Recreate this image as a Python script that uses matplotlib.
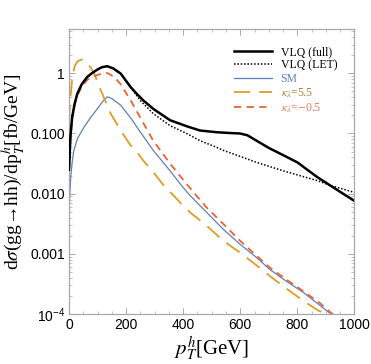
import matplotlib
matplotlib.use("Agg")
import matplotlib.pyplot as plt
from matplotlib.ticker import FixedLocator, FixedFormatter, NullFormatter, MultipleLocator

plt.rcParams['mathtext.fontset'] = 'stix'

# ---- data ----
pt_full = [0, 5, 11, 20, 29, 45, 64, 80, 99, 115, 134, 155, 181, 216, 237, 260, 295, 354, 412, 459,
           517, 560, 599, 625, 657, 700, 750, 800, 868, 914, 960, 1000]
vlq_full = [0.025, 0.089, 0.186, 0.316, 0.457, 0.661, 0.871, 1.0, 1.148, 1.259, 1.31, 1.202, 0.989,
            0.589, 0.457, 0.355, 0.257, 0.166, 0.132, 0.112, 0.105, 0.102, 0.100, 0.0933, 0.0759,
            0.0575, 0.0437, 0.0331, 0.0191, 0.0138, 0.0100, 0.00759]

pt_let = [0, 5, 11, 20, 29, 45, 64, 80, 99, 115, 134, 155, 181, 216, 249, 295, 354, 412, 459, 517,
          540, 599, 657, 750, 868, 914, 1000]
vlq_let = [0.025, 0.089, 0.186, 0.316, 0.457, 0.661, 0.871, 1.0, 1.148, 1.259, 1.31, 1.202, 0.989,
           0.589, 0.355, 0.214, 0.135, 0.100, 0.0759, 0.0589, 0.0525, 0.0417, 0.0331, 0.0240,
           0.0166, 0.0138, 0.0105]

pt_sm = [0, 3, 6, 11, 17, 30, 52, 75, 99, 118, 134, 150, 181, 222, 237, 295, 354, 400, 424, 482,
         540, 599, 657, 704, 760, 821, 870, 926, 1000]
sm = [0.00468, 0.0100, 0.0186, 0.0331, 0.0525, 0.0832, 0.126, 0.182, 0.257, 0.339, 0.407, 0.380,
      0.295, 0.166, 0.129, 0.0525, 0.0240, 0.0126, 0.00933, 0.00490, 0.00257, 0.00145, 0.000871,
      0.000550, 0.000355, 0.000229, 0.000151, 0.0000933, 0.0000501]

pt_k55 = [0, 5, 12, 20, 30, 45, 60, 75, 88, 111, 146, 181, 216, 237, 260, 295, 330, 380, 424, 482,
          540, 599, 657, 704, 760, 821, 870, 914, 1000]
k55 = [0.158, 0.398, 0.891, 1.318, 1.585, 1.698, 1.549, 1.259, 1.0, 0.525, 0.214, 0.112, 0.0631,
       0.0501, 0.0355, 0.0229, 0.0141, 0.00794, 0.00490, 0.00295, 0.00166, 0.00105, 0.000646,
       0.000427, 0.000269, 0.000166, 0.000117, 0.0000933, 0.0000501]

pt_km05 = [0, 5, 11, 20, 29, 45, 64, 80, 99, 120, 134, 158, 179, 216, 249, 295, 354, 412, 482, 540,
           599, 657, 704, 760, 821, 880, 930, 1000]
km05 = [0.0251, 0.0832, 0.178, 0.302, 0.427, 0.603, 0.776, 0.871, 0.933, 1.0, 1.012, 0.871, 0.676,
        0.355, 0.186, 0.0759, 0.0316, 0.0145, 0.00589, 0.00316, 0.00166, 0.000933, 0.000589,
        0.000380, 0.000240, 0.000151, 0.0000933, 0.0000501]

labels = ['VLQ (full)', 'VLQ (LET)', 'SM', r'$\kappa_\lambda$=5.5', r'$\kappa_\lambda$=$-$0.5']
x_ticks = [0, 200, 400, 600, 800, 1000]
y_ticks = [1e-4, 1e-3, 1e-2, 1e-1, 1]
y_ticklabels = [r'$\mathregular{10^{-4}}$', '0.001', '0.010', '0.100', '1']

# ---- figure ----
fig = plt.figure(figsize=(3.71, 3.64), dpi=100)
ax = fig.add_axes([0.186, 0.137, 0.7695, 0.783])

c_blue = '#5E81B5'
c_orange = '#E19C24'
c_red = '#EB6235'

ax.plot(pt_full, vlq_full, color='black', lw=1.8, label=labels[0], zorder=5)
ax.plot(pt_let, vlq_let, color='black', lw=1.1, ls=(0, (1, 1.2)), label=labels[1], zorder=4)
ax.plot(pt_sm, sm, color=c_blue, lw=0.9, label=labels[2])
ax.plot(pt_k55, k55, color=c_orange, lw=1.3, ls=(0, (9, 5)), label=labels[3])
ax.plot(pt_km05, km05, color=c_red, lw=1.3, ls=(0, (4, 3)), label=labels[4])

ax.set_yscale('log')
ax.set_xlim(0, 1000)
ax.set_ylim(1e-4, 5.41)

ax.xaxis.set_major_locator(FixedLocator(x_ticks))
ax.xaxis.set_minor_locator(MultipleLocator(50))
ax.yaxis.set_major_locator(FixedLocator(y_ticks))
ax.yaxis.set_major_formatter(FixedFormatter(y_ticklabels))
ax.yaxis.set_minor_formatter(NullFormatter())

for sp in ax.spines.values():
    sp.set_color('#a8a8a8')
    sp.set_linewidth(0.9)

ax.tick_params(which='both', direction='in', top=True, right=True, color='#a8a8a8',
               labelsize=10, pad=3)
ax.tick_params(which='major', length=4.5, width=0.7)
ax.tick_params(which='minor', length=2.5, width=0.5)
for lab in ax.get_xticklabels() + ax.get_yticklabels():
    lab.set_family('Liberation Sans')

ax.set_xlabel(r'$p_T^h$[GeV]', fontsize=15, family='Liberation Serif', labelpad=2)
ax.set_ylabel('d$\\sigma$(gg\u2192hh)/dp$_T^h$[fb/GeV]', fontsize=14,
              family=['Liberation Serif', 'DejaVu Serif'], labelpad=2)

leg = ax.legend(loc='upper left', bbox_to_anchor=(234 / 371, 1 - 46 / 364),
                bbox_transform=fig.transFigure, borderaxespad=0, borderpad=0,
                frameon=False, prop={'family': 'Liberation Serif', 'size': 8.5},
                handlelength=3.2, handletextpad=0.75, labelspacing=0.12,
                labelcolor=['black', 'black', c_blue, '#A8843A', '#E8805A'])

fig.savefig('out.png', dpi=100)
